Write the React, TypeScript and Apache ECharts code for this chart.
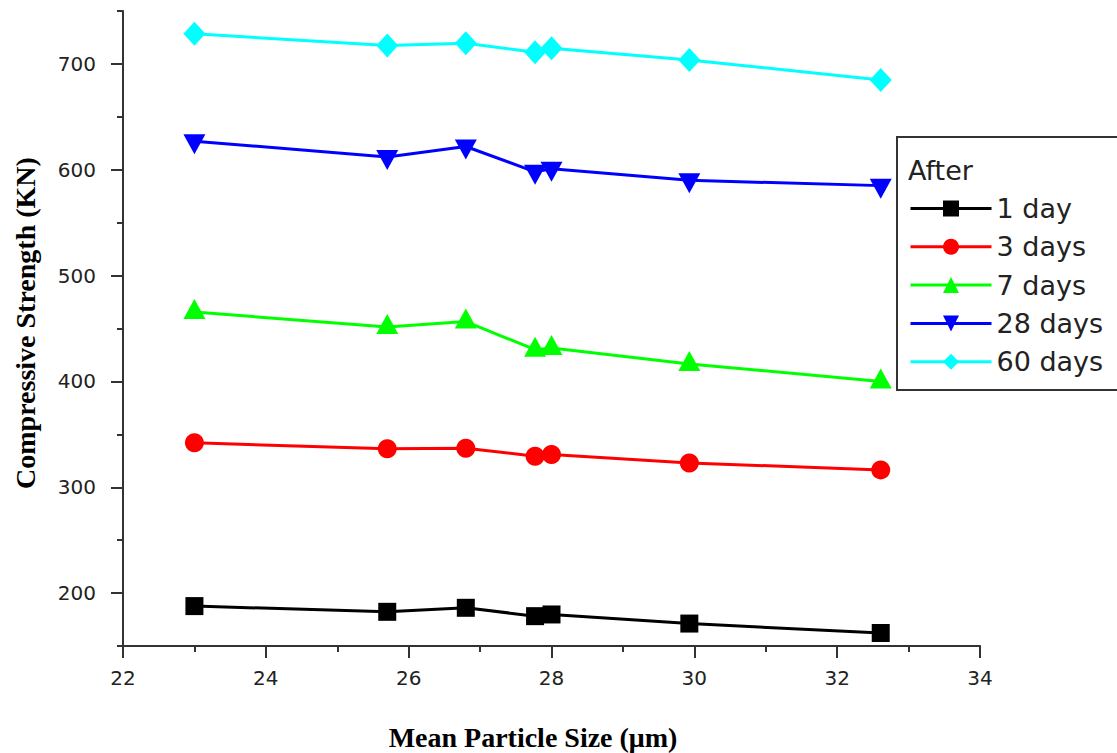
import React, { useEffect, useRef } from "react";
import * as echarts from "echarts";

const sizes = [23.0, 25.7, 26.8, 27.77, 28.0, 29.93, 32.61];
const day1 = [187.7, 182.3, 186.1, 178.2, 179.8, 171.2, 162.3];
const day3 = [342.0, 336.3, 336.9, 329.3, 330.9, 323.0, 316.4];
const day7 = [465.5, 451.5, 456.5, 430.0, 431.5, 416.5, 400.0];
const day28 = [627.0, 612.0, 622.0, 598.0, 601.0, 590.0, 585.0];
const day60 = [728.5, 717.4, 719.6, 711.1, 714.9, 703.8, 684.8];

const seriesNames = ["1 day", "3 days", "7 days", "28 days", "60 days"];
const seriesColors = ["#000000", "#ff0000", "#00ff00", "#0000ff", "#00ffff"];
const majorYTicks = [200, 300, 400, 500, 600, 700];

const xTitle = "Mean Particle Size (μm)";
const yTitle = "Compressive Strength (KN)";
const legendTitle = "After";

export default function App() {
  const ref = useRef<HTMLDivElement>(null);
  useEffect(() => {
    if (!ref.current) return;
    const chart = echarts.init(ref.current, null, { renderer: "svg" });
    const all = [day1, day3, day7, day28, day60];
    const symbols: any[] = [
      { symbol: "rect", symbolSize: 18 },
      { symbol: "circle", symbolSize: 19 },
      { symbol: "triangle", symbolSize: [22, 20], symbolOffset: [0, -3] },
      { symbol: "triangle", symbolSize: [22, 20], symbolRotate: 180, symbolOffset: [0, 3] },
      { symbol: "diamond", symbolSize: [22, 24] },
    ];
    const series = all.map((vals, i) => ({
      name: seriesNames[i],
      type: "line",
      xAxisIndex: 0,
      yAxisIndex: 0,
      data: sizes.map((x, j) => [x, vals[j]]),
      ...symbols[i],
      showAllSymbol: true,
      color: seriesColors[i],
      lineStyle: { color: seriesColors[i], width: 3 },
      itemStyle: { color: seriesColors[i] },
      z: 3,
    }));
    const labelFont = { fontFamily: "DejaVu Sans", fontSize: 20, color: "#222" };
    chart.setOption({
      animation: false,
      backgroundColor: "#ffffff",
      grid: { left: 123, right: 137, top: 11, bottom: 107, containLabel: false },
      xAxis: {
        type: "value",
        min: 22,
        max: 34,
        interval: 2,
        axisLine: { show: true, lineStyle: { color: "#333", width: 2 } },
        axisTick: { show: true, length: 12, lineStyle: { color: "#333", width: 2 } },
        minorTick: { show: true, splitNumber: 2, length: 6, lineStyle: { color: "#333", width: 2 } },
        splitLine: { show: false },
        minorSplitLine: { show: false },
        axisLabel: { ...labelFont, margin: 22 },
      },
      yAxis: [
        {
          type: "value",
          min: 150,
          max: 750,
          position: "left",
          axisLine: { show: true, lineStyle: { color: "#333", width: 2 } },
          axisTick: { show: true, length: 12, customValues: majorYTicks, lineStyle: { color: "#333", width: 2 } },
          splitLine: { show: false },
          axisLabel: { ...labelFont, margin: 27, customValues: majorYTicks },
        },
        {
          type: "value",
          min: 150,
          max: 750,
          interval: 50,
          position: "left",
          axisLine: { show: false },
          axisTick: { show: true, length: 6, lineStyle: { color: "#333", width: 2 } },
          splitLine: { show: false },
          axisLabel: { show: false },
        },
      ],
      legend: {
        orient: "vertical",
        left: 909,
        top: 195,
        itemWidth: 81,
        itemHeight: 20,
        itemGap: 11.3,
        padding: 0,
        data: seriesNames,
        lineStyle: { width: 3 },
        textStyle: { fontFamily: "DejaVu Sans", fontSize: 27, color: "#222" },
      },
      graphic: [
        {
          type: "rect",
          shape: { x: 897, y: 137, width: 240, height: 253 },
          style: { fill: "#ffffff", stroke: "#333", lineWidth: 2 },
          z: 1,
        },
        {
          type: "text",
          x: 908,
          y: 170,
          style: {
            text: legendTitle,
            fontFamily: "DejaVu Sans",
            fontSize: 27,
            fill: "#222",
            verticalAlign: "middle",
          },
          z: 2,
        },
        {
          type: "text",
          x: 533,
          y: 737,
          style: {
            text: xTitle,
            fontFamily: "Liberation Serif",
            fontWeight: "bold",
            fontSize: 28,
            fill: "#000",
            align: "center",
            verticalAlign: "middle",
          },
        },
        {
          type: "text",
          x: 25,
          y: 323,
          rotation: Math.PI / 2,
          style: {
            text: yTitle,
            fontFamily: "Liberation Serif",
            fontWeight: "bold",
            fontSize: 28,
            fill: "#000",
            align: "center",
            verticalAlign: "middle",
          },
        },
      ],
      series,
    });
    return () => chart.dispose();
  }, []);
  return (
    <div
      ref={ref}
      style={{ position: "absolute", left: 0, top: 0, width: 1117, height: 753 }}
    />
  );
}
